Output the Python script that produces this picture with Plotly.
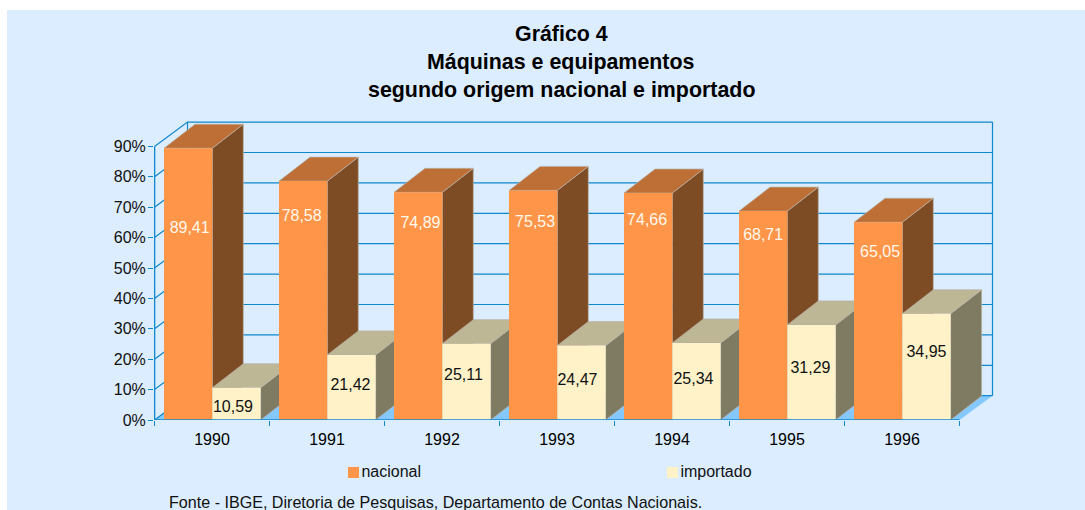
import plotly.graph_objects as go

years = ["1990", "1991", "1992", "1993", "1994", "1995", "1996"]
nacional = [89.41, 78.58, 74.89, 75.53, 74.66, 68.71, 65.05]
importado = [10.59, 21.42, 25.11, 24.47, 25.34, 31.29, 34.95]
# hand-placed label heights and horizontal nudges
nac_label_y = [62.7, 66.9, 64.5, 64.8, 65.3, 60.4, 54.8]
imp_label_y = [4.1, 11.3, 14.6, 12.7, 13.3, 16.9, 21.9]
nac_label_dx = [0.013, -0.013, 0.02, 0.017, -0.009, 0.0, 0.017]
imp_label_dx = [-0.03, -0.009, -0.026, -0.035, -0.026, -0.009, 0.0]
y_ticks = [0, 10, 20, 30, 40, 50, 60, 70, 80, 90]
y_labels = [f"{v}%" for v in y_ticks]

FONT = "Liberation Sans, Arial, sans-serif"
LINE = "#1088CC"
C_NAC = ("#FF9548", "#BD6F36", "#7E4C24")
C_IMP = ("#FFF2C8", "#BDB795", "#7F7B62")

W, H = 1085, 510
ML, MR, MT, MB = 154, 85, 116, 20     # plot box 154..1000, 116..490
PW, PH = W - ML - MR, H - MT - MB
KEY_TOP, AXIS_Y = 452, 420            # pixel rows used for the two panels
PX_X, PX_Y = 115.0, 3.04              # pixels per category, pixels per percent
x_min = -0.5 / PX_X
x_max = x_min + PW / PX_X
y_max = (AXIS_Y - MT) / PX_Y
WALL_DX, WALL_DY = 33 / PX_X, 24.3 / PX_Y
BAR_DX, BAR_DY = 31 / PX_X, 24 / PX_Y
GAP, BAR_W = 9.5 / PX_X, 48.3 / PX_X


def poly(xs, ys, color, edge=None):
    return go.Scatter(x=xs, y=ys, mode="lines", fill="toself", fillcolor=color,
                      line=dict(color=edge or color, width=0.7 if edge else 0),
                      hoverinfo="skip", showlegend=False)


def line(xs, ys, width=1.2):
    return go.Scatter(x=xs, y=ys, mode="lines", line=dict(color=LINE, width=width),
                      hoverinfo="skip", showlegend=False)


fig = go.Figure()

# floor
fig.add_trace(poly([0, 7, 7 + WALL_DX, WALL_DX, 0], [0, 0, WALL_DY, WALL_DY, 0], "#85C8FF"))
# gridlines on back and left walls
for v in y_ticks:
    fig.add_trace(line([0, WALL_DX, 7 + WALL_DX], [v, v + WALL_DY, v + WALL_DY]))
fig.add_trace(line([WALL_DX, WALL_DX], [WALL_DY, 90 + WALL_DY]))
fig.add_trace(line([7 + WALL_DX, 7 + WALL_DX], [WALL_DY, 90 + WALL_DY]))


def bar3d(x0, v, colors):
    x1 = x0 + BAR_W
    front, top, side = colors
    edge = "#B9B2A8"
    fig.add_trace(poly([x1, x1 + BAR_DX, x1 + BAR_DX, x1, x1],
                       [0, BAR_DY, v + BAR_DY, v, 0], side, edge))
    fig.add_trace(poly([x0, x0 + BAR_DX, x1 + BAR_DX, x1, x0],
                       [v, v + BAR_DY, v + BAR_DY, v, v], top, edge))
    fig.add_trace(poly([x0, x1, x1, x0, x0], [0, 0, v, v, 0], front))


for i, (n, m) in enumerate(zip(nacional, importado)):
    bar3d(i + GAP, n, C_NAC)
    bar3d(i + GAP + BAR_W, m, C_IMP)

# front axis lines
fig.add_trace(line([0, 0], [0, 90], 1.6))
fig.add_trace(line([0, 7], [0, 0], 1.6))

# value labels
fmt = lambda v: f"{v:.2f}".replace(".", ",")
fig.add_trace(go.Scatter(
    x=[i + GAP + BAR_W / 2 + d for i, d in enumerate(nac_label_dx)], y=nac_label_y,
    mode="text", text=[fmt(v) for v in nacional], name="nacional",
    textfont=dict(family=FONT, size=16, color="#FFF8EC"), showlegend=False))
fig.add_trace(go.Scatter(
    x=[i + GAP + 1.5 * BAR_W + d for i, d in enumerate(imp_label_dx)], y=imp_label_y,
    mode="text", text=[fmt(v) for v in importado], name="importado",
    textfont=dict(family=FONT, size=16, color="#111111"), showlegend=False))

# key, in its own small panel below the axis
for name, color, px in [("nacional", C_NAC[0], 353.5), ("importado", C_IMP[0], 672.5)]:
    fig.add_trace(go.Scatter(
        x=[(px - 154.5) / PX_X], y=[0.46], mode="markers+text", xaxis="x2", yaxis="y2",
        marker=dict(symbol="square", size=11, color=color),
        text=[name], textposition="middle right",
        textfont=dict(family=FONT, size=16, color="#111111"),
        cliponaxis=False, name=name, showlegend=False))

to_px = lambda px: (px - ML) / PW
to_py = lambda py: 1 - (py - MT) / PH
annotations = [
    dict(x=to_px(561), y=to_py(py), xref="paper", yref="paper", text=f"<b>{t}</b>",
         showarrow=False, xanchor="center", yanchor="middle",
         font=dict(family=FONT, size=21.4, color="#000000"))
    for t, py in [("Gráfico 4", 34), ("Máquinas e equipamentos", 62),
                  ("segundo origem nacional e importado", 90)]
]
annotations.append(dict(
    x=to_px(167), y=to_py(502), xref="paper", yref="paper", showarrow=False,
    text="Fonte - IBGE, Diretoria de Pesquisas, Departamento de Contas Nacionais.",
    xanchor="left", yanchor="middle", font=dict(family=FONT, size=16.1, color="#111111")))

fig.update_layout(
    width=W, height=H, autosize=False,
    margin=dict(l=ML, r=MR, t=MT, b=MB),
    paper_bgcolor="#FFFFFF", plot_bgcolor="rgba(0,0,0,0)",
    showlegend=False, annotations=annotations,
    shapes=[dict(type="rect", xref="paper", yref="paper", layer="below",
                 x0=to_px(7), x1=to_px(W), y0=to_py(H), y1=to_py(10),
                 fillcolor="#DBEDFF", line_width=0)],
    xaxis=dict(range=[x_min, x_max], domain=[0, 1], anchor="y",
               showgrid=False, zeroline=False, showline=False,
               tickmode="array", tickvals=[i + 0.5 for i in range(7)], ticktext=years,
               ticks="", ticklabelstandoff=8,
               tickfont=dict(family=FONT, size=16, color="#000000"),
               minor=dict(tickmode="array", tickvals=list(range(8)), ticks="outside",
                          ticklen=5, tickcolor=LINE, tickwidth=1, showgrid=False)),
    yaxis=dict(range=[0, y_max], domain=[to_py(AXIS_Y), 1], anchor="x",
               showgrid=False, zeroline=False, showline=False,
               tickmode="array", tickvals=y_ticks, ticktext=y_labels,
               ticks="outside", ticklen=5, tickcolor=LINE, tickwidth=1,
               ticklabelstandoff=-1,
               tickfont=dict(family=FONT, size=16, color="#111111")),
    xaxis2=dict(range=[x_min, x_max], domain=[0, 1], anchor="y2", visible=False),
    yaxis2=dict(range=[0, 1], domain=[0, to_py(KEY_TOP)], anchor="x2", visible=False),
)

fig.write_html("out.html", config={"displayModeBar": False},
               post_script="document.body.style.margin='0';")
